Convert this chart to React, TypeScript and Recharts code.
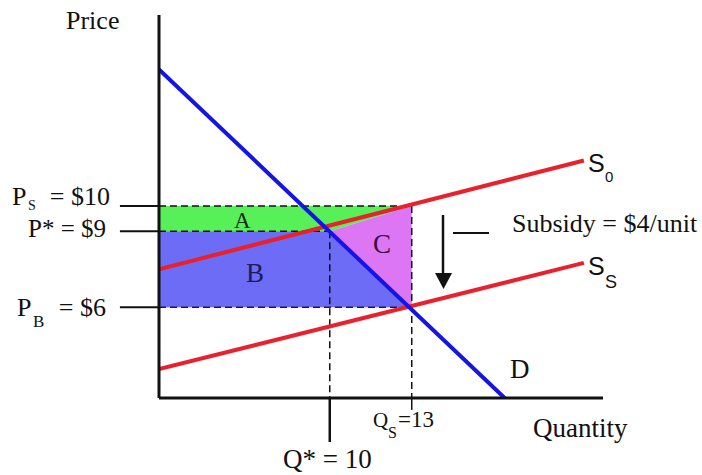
import { ComposedChart, Line, Area, XAxis, YAxis, ReferenceLine } from "recharts";

// axis extents (quantity / price units as laid out in the diagram)
const Q_RANGE = [3.75, 20];
const P_RANGE = [2.41, 17.55];

// key values
const P_S = 10;
const P_STAR = 9;
const P_B = 6;
const Q_STAR = 10;
const Q_S = 13;

// curves
const demand = [
  { q: 3.75, p: 15.4 },
  { q: 16.4, p: 2.41 },
];
const supply0 = [
  { q: 3.75, p: 7.5 },
  { q: 19.3, p: 11.8 },
];
const supplyS = [
  { q: 3.75, p: 3.55 },
  { q: 19.3, p: 7.75 },
];

// shaded regions (low / high price at each quantity)
const areaA = [
  { q: 3.75, lo: 9, hi: 10 },
  { q: 10, lo: 9, hi: 10 },
  { q: 13, lo: 10, hi: 10 },
];
const areaB = [
  { q: 3.75, lo: 6, hi: 9 },
  { q: 10, lo: 6, hi: 9 },
  { q: 13, lo: 6, hi: 6 },
];
const areaC = [
  { q: 10, lo: 9, hi: 9 },
  { q: 13, lo: 6, hi: 10 },
];

// tick stubs outside the plot
const TICK_LEFT_Q = 2.32;
const TICK_QSTAR_P = 0.67;
const TICK_QS_P = 1.94;

const serif = "'Liberation Serif', 'Times New Roman', serif";
const sans = "'Liberation Sans', Arial, sans-serif";
const range = (d: { lo: number; hi: number }) => [d.lo, d.hi];

export default function App() {
  const qMin = Q_RANGE[0];
  const pMin = P_RANGE[0];
  return (
    <div style={{ position: "absolute", left: 0, top: 0, width: 702, height: 475, background: "#fff" }}>
      <ComposedChart width={702} height={475} margin={{ top: 15, right: 99, bottom: 77, left: 159 }}>
        <XAxis type="number" dataKey="q" domain={Q_RANGE} hide allowDataOverflow />
        <YAxis type="number" domain={P_RANGE} hide allowDataOverflow />

        <Area data={areaA} dataKey={range} type="linear" fill="#58f058" fillOpacity={1} stroke="none" isAnimationActive={false} />
        <Area data={areaB} dataKey={range} type="linear" fill="#6c6cf6" fillOpacity={1} stroke="none" isAnimationActive={false} />
        <Area data={areaC} dataKey={range} type="linear" fill="#dc76f4" fillOpacity={1} stroke="none" isAnimationActive={false} />

        {/* dashed guides */}
        <ReferenceLine segment={[{ x: qMin, y: P_S }, { x: Q_S, y: P_S }]} stroke="#111" strokeWidth={1.5} strokeDasharray="7 4" ifOverflow="visible" />
        <ReferenceLine segment={[{ x: qMin, y: P_STAR }, { x: Q_STAR, y: P_STAR }]} stroke="#111" strokeWidth={1.5} strokeDasharray="7 4" ifOverflow="visible" />
        <ReferenceLine segment={[{ x: qMin, y: P_B }, { x: Q_S, y: P_B }]} stroke="#16166a" strokeWidth={1.5} strokeDasharray="7 4" ifOverflow="visible" />
        <ReferenceLine segment={[{ x: Q_STAR, y: P_STAR }, { x: Q_STAR, y: pMin }]} stroke="#111" strokeWidth={1.5} strokeDasharray="7 4" ifOverflow="visible" />
        <ReferenceLine segment={[{ x: Q_S, y: P_S }, { x: Q_S, y: pMin }]} stroke="#111" strokeWidth={1.5} strokeDasharray="7 4" ifOverflow="visible" />

        {/* tick stubs */}
        <ReferenceLine segment={[{ x: TICK_LEFT_Q, y: P_S }, { x: qMin, y: P_S }]} stroke="#111" strokeWidth={2} ifOverflow="visible" />
        <ReferenceLine segment={[{ x: TICK_LEFT_Q, y: P_STAR }, { x: qMin, y: P_STAR }]} stroke="#111" strokeWidth={2} ifOverflow="visible" />
        <ReferenceLine segment={[{ x: TICK_LEFT_Q, y: P_B }, { x: qMin, y: P_B }]} stroke="#111" strokeWidth={2} ifOverflow="visible" />
        <ReferenceLine segment={[{ x: Q_STAR, y: pMin }, { x: Q_STAR, y: TICK_QSTAR_P }]} stroke="#111" strokeWidth={2.5} ifOverflow="visible" />
        <ReferenceLine segment={[{ x: Q_S, y: pMin }, { x: Q_S, y: TICK_QS_P }]} stroke="#111" strokeWidth={1.5} ifOverflow="visible" />

        <Line data={supply0} dataKey="p" type="linear" stroke="#e8222c" strokeWidth={4} dot={false} isAnimationActive={false} />
        <Line data={supplyS} dataKey="p" type="linear" stroke="#e8222c" strokeWidth={4} dot={false} isAnimationActive={false} />
        <Line data={demand} dataKey="p" type="linear" stroke="#1414e6" strokeWidth={4} dot={false} isAnimationActive={false} />

        {/* axes */}
        <ReferenceLine segment={[{ x: qMin, y: pMin }, { x: Q_RANGE[1], y: pMin }]} stroke="#111" strokeWidth={3} ifOverflow="visible" />
        <ReferenceLine segment={[{ x: qMin, y: pMin }, { x: qMin, y: P_RANGE[1] }]} stroke="#111" strokeWidth={3} ifOverflow="visible" />
      </ComposedChart>

      <svg width={702} height={475} style={{ position: "absolute", left: 0, top: 0, pointerEvents: "none" }}>
        <g fontFamily={serif} fill="#111">
          <text x={66} y={29} fontSize={26}>Price</text>
          <text x={533} y={437} fontSize={27}>Quantity</text>

          <text x={12} y={205} fontSize={26}>P</text>
          <text x={28} y={210} fontSize={14}>S</text>
          <text x={110} y={205} fontSize={26} textAnchor="end">= $10</text>

          <text x={106} y={237} fontSize={25} textAnchor="end">P* = $9</text>

          <text x={17} y={316} fontSize={26}>P</text>
          <text x={33} y={327} fontSize={17}>B</text>
          <text x={106} y={316} fontSize={26} textAnchor="end">= $6</text>

          <text x={283} y={468} fontSize={27}>Q* = 10</text>

          <text x={373} y={427} fontSize={21}>Q</text>
          <text x={388} y={438} fontSize={16}>S</text>
          <text x={398} y={427} fontSize={23}>=13</text>

          <text x={234} y={228} fontSize={23} fill="#1a2a1a">A</text>
          <text x={246} y={282} fontSize={27} fill="#1c1c5a">B</text>
          <text x={373} y={253} fontSize={27} fill="#3a0a48">C</text>

          <text x={510} y={378} fontSize={27}>D</text>
          <text x={512} y={232} fontSize={26}>Subsidy = $4/unit</text>
        </g>
        <g fontFamily={sans} fill="#111">
          <text x={588} y={172} fontSize={25}>S</text>
          <text x={605} y={182} fontSize={15}>0</text>
          <text x={588} y={275} fontSize={25}>S</text>
          <text x={605} y={288} fontSize={18}>S</text>
        </g>
        <line x1={443} y1={215} x2={443} y2={276} stroke="#111" strokeWidth={2.5} />
        <polygon points="435,273 452,273 443.5,289" fill="#111" />
        <line x1={453} y1={233} x2={489} y2={233} stroke="#111" strokeWidth={2} />
      </svg>
    </div>
  );
}
